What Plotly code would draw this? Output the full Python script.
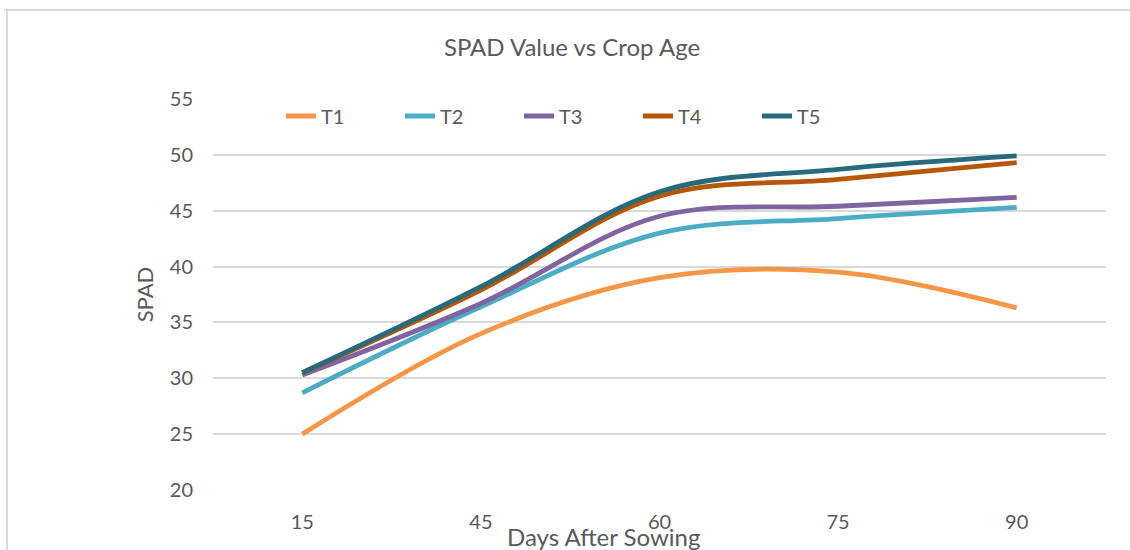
import plotly.graph_objects as go

days = ["15", "45", "60", "75", "90"]
series_names = ["T1", "T2", "T3", "T4", "T5"]
t1 = [25.0, 34.0, 39.0, 39.5, 36.3]
t2 = [28.7, 36.4, 43.0, 44.3, 45.3]
t3 = [30.3, 36.7, 44.5, 45.4, 46.2]
t4 = [30.5, 37.9, 46.3, 47.8, 49.3]
t5 = [30.5, 38.2, 46.7, 48.7, 49.9]
colors = ["#F79646", "#4BACC6", "#8064A2", "#B65708", "#276A7C"]
y_ticks = [20, 25, 30, 35, 40, 45, 50, 55]

FONT = "Lato"
TXT = "#595959"

W, H = 1130, 550
L, R, T, B = 213, 1106, 99, 490
PW, PH = R - L, B - T

fig = go.Figure()
for name, vals, col in zip(series_names, [t1, t2, t3, t4, t5], colors):
    fig.add_trace(go.Scatter(
        x=days, y=vals, name=name, mode="lines",
        line=dict(color=col, width=4.8, shape="spline", smoothing=1.0),
    ))

fig.update_layout(
    width=W, height=H,
    margin=dict(l=L, r=W - R, t=T, b=H - B, autoexpand=False),
    paper_bgcolor="white", plot_bgcolor="white",
    font=dict(family=FONT, color=TXT, size=20),
    title=dict(text="SPAD Value vs Crop Age", x=572 / W, xref="container",
               y=1 - 48 / H, yref="container", xanchor="center", yanchor="middle",
               font=dict(family=FONT, size=24, color=TXT)),
    showlegend=True,
    legend=dict(orientation="h", x=(281 - L) / PW, y=(B - 116) / PH,
                xanchor="left", yanchor="middle",
                entrywidth=74, entrywidthmode="pixels", itemwidth=30,
                font=dict(family=FONT, size=20, color=TXT), bgcolor="rgba(0,0,0,0)"),
    xaxis=dict(type="category", range=[-0.5, 4.5], showgrid=False, zeroline=False,
               showline=False, ticks="", tickfont=dict(size=20, color=TXT),
               ticklabelstandoff=18),
    yaxis=dict(range=[20, 55], tickvals=y_ticks, showgrid=True, gridcolor="#D9D9D9",
               gridwidth=1.5, zeroline=False, showline=False, ticks="",
               tickfont=dict(size=20, color=TXT), ticklabelstandoff=19,
               title=dict(text="SPAD", font=dict(size=22, color=TXT), standoff=10)),
    annotations=[dict(text="Days After Sowing", xref="paper", yref="paper",
                      x=(603 - L) / PW, y=-(536 - B) / PH,
                      xanchor="center", yanchor="middle", showarrow=False,
                      font=dict(family=FONT, size=24, color=TXT))],
    shapes=[
        dict(type="line", xref="paper", yref="paper",
             x0=-(L - 4) / PW, x1=(W - L) / PW,
             y0=(B - 10) / PH, y1=(B - 10) / PH,
             line=dict(color="#D9D9D9", width=2)),
        dict(type="line", xref="paper", yref="paper",
             x0=-(L - 7) / PW, x1=-(L - 7) / PW,
             y0=(B - 10) / PH, y1=-(H - B) / PH,
             line=dict(color="#D9D9D9", width=2)),
    ],
)

fig.write_html(
    "out.html",
    config={"displayModeBar": False},
    post_script="document.body.style.margin='0';document.body.style.overflow='hidden';"
                "document.documentElement.style.overflow='hidden';",
)
